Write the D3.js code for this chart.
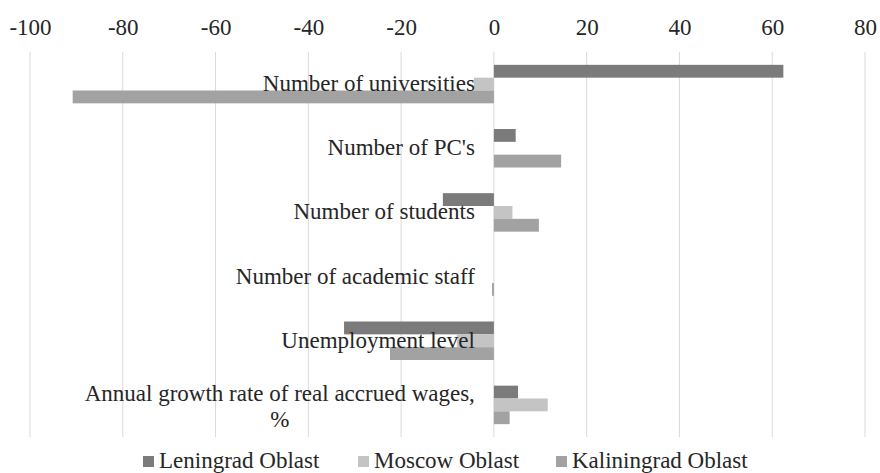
<!DOCTYPE html>
<html>
<head>
<meta charset="utf-8">
<script src="https://cdn.jsdelivr.net/npm/d3@7"></script>
<style>
  body { margin: 0; background: #fff; }
  text { font-family: "Liberation Serif", "Times New Roman", serif; fill: #262626; }
</style>
</head>
<body>
<svg id="chart" width="880" height="473"></svg>
<script>
const categories = [
  'Number of universities',
  "Number of PC's",
  'Number of students',
  'Number of academic staff',
  'Unemployment level',
  'Annual growth rate of real accrued wages, %'
]
const seriesNames = ['Leningrad Oblast', 'Moscow Oblast', 'Kaliningrad Oblast']
const leningrad = [62.4, 4.7, -11, 0, -32.3, 5.2]
const moscow = [-4.3, 0, 4, 0, -8, 11.6]
const kaliningrad = [-90.8, 14.5, 9.7, -0.4, -22.4, 3.4]
const xTicks = [-100, -80, -60, -40, -20, 0, 20, 40, 60, 80]
const colors = ['#7b7b7b', '#c4c4c4', '#a2a2a2']

const series = [leningrad, moscow, kaliningrad]
const svg = d3.select('#chart')
const fontSize = '23px'

const x = d3.scaleLinear().domain([-100, 80]).range([30, 865])
const y = d3.scaleBand().domain(categories).range([52, 437])
  .paddingInner(0.4).paddingOuter(0.2)
const ySub = d3.scaleBand().domain(d3.range(series.length)).range([0, y.bandwidth()])

// grid
svg.append('g')
  .selectAll('line')
  .data(xTicks)
  .join('line')
    .attr('x1', d => x(d)).attr('x2', d => x(d))
    .attr('y1', 52).attr('y2', 437)
    .attr('stroke', '#d9d9d9').attr('stroke-width', 1)

// top axis labels (plain hyphen for negatives, like the original)
const axis = svg.append('g')
  .attr('transform', 'translate(0,35)')
  .call(d3.axisTop(x).tickValues(xTicks).tickSize(0).tickPadding(0).tickFormat(d => String(d)))
axis.select('.domain').remove()
axis.selectAll('text')
  .style('font-family', '"Liberation Serif", serif')
  .style('font-size', fontSize)
  .attr('fill', '#262626')

// bars
series.forEach((vals, si) => {
  svg.append('g')
    .selectAll('rect')
    .data(vals.map((v, i) => ({v, c: categories[i]})))
    .join('rect')
      .attr('x', d => x(Math.min(0, d.v)))
      .attr('width', d => Math.abs(x(d.v) - x(0)))
      .attr('y', d => y(d.c) + ySub(si))
      .attr('height', ySub.bandwidth())
      .attr('fill', colors[si])
})

// category labels, next to the zero line
const labelRight = x(0) - 19
const labels = svg.append('g')
categories.forEach(c => {
  const cy = y(c) + y.bandwidth() / 2
  if (c.startsWith('Annual')) {
    const t = labels.append('text')
      .attr('font-size', fontSize)
      .attr('text-anchor', 'middle')
    t.append('tspan').text('Annual growth rate of real accrued wages,')
    const w = t.node().getComputedTextLength()
    const mid = labelRight - w / 2
    t.select('tspan').attr('x', mid).attr('y', cy - 4)
    t.append('tspan').attr('x', mid).attr('y', cy + 22).text('%')
  } else {
    labels.append('text')
      .attr('x', labelRight)
      .attr('y', cy + 7)
      .attr('text-anchor', 'end')
      .attr('font-size', fontSize)
      .text(c)
  }
})

// legend
const legendX = [143, 358, 556]
const legend = svg.append('g').selectAll('g')
  .data(seriesNames)
  .join('g')
    .attr('transform', (d, i) => `translate(${legendX[i]},456)`)
legend.append('rect')
  .attr('width', 11).attr('height', 11)
  .attr('fill', (d, i) => colors[i])
legend.append('text')
  .attr('x', 16).attr('y', 12)
  .attr('font-size', fontSize)
  .text(d => d)
</script>
</body>
</html>
